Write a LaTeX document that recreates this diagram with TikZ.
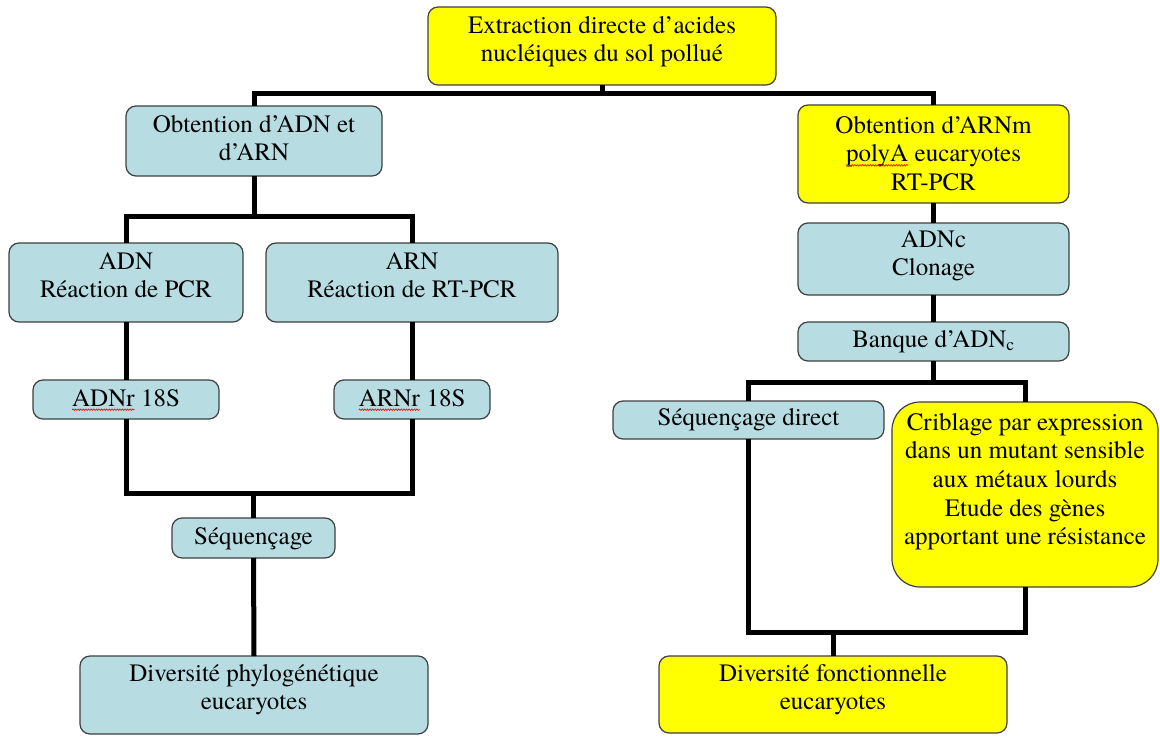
\documentclass[tikz,border=0pt]{standalone}
\usepackage{fontspec}
\setmainfont{texgyretermes-regular.otf}
\usetikzlibrary{decorations.pathmorphing}

\definecolor{boxblue}{HTML}{B7DDE3}
\definecolor{boxyellow}{HTML}{FFFF00}
\definecolor{boxline}{HTML}{404040}

% red wavy underline (spell-check style)
\newcommand\spell[1]{\tikz[baseline=(w.base)]{\node[inner sep=0,outer sep=0] (w) {#1};%
  \draw[red,line width=0.6pt,decorate,decoration={snake,amplitude=0.8pt,segment length=2.6pt}]
    ([yshift=-3.5pt]w.base west) -- ([yshift=-3.5pt]w.base east);}}
% strut fixing the height of a first line
\newcommand\fl{\rule{0pt}{18pt}}
% box from its corners: name, style, x1, y1, x2, y2
\newcommand\bx[6]{\node[#2, minimum width=#5-#3, minimum height=#6-#4] (#1) at ({(#3+#5)/2},{(#4+#6)/2}) {};}

\begin{document}
\begin{tikzpicture}[x=1pt,y=-1pt,
  box/.style={draw=boxline, line width=1.2pt, rounded corners=10pt, inner sep=0pt, outer sep=0pt},
  bluebox/.style={box, fill=boxblue},
  yellowbox/.style={box, fill=boxyellow},
  txt/.style={anchor=north, inner sep=0pt, align=center, font=\fontsize{25}{28.6}\selectfont},
  conn/.style={line width=5pt}]

\fill[white] (0,0) rectangle (1160,737);
\useasboundingbox (0,0) rectangle (1160,737);

% boxes
\bx{top}{yellowbox}{428}{7}{776}{85}
\bx{obt}{bluebox}{126}{106}{382}{176}
\bx{adn}{bluebox}{9}{243}{243}{322}
\bx{arn}{bluebox}{266}{243}{558}{322}
\bx{adnr}{bluebox}{33}{380}{219}{419}
\bx{arnr}{bluebox}{334}{380}{490}{419}
\bx{seq}{bluebox}{172}{518}{335}{558}
\bx{divp}{bluebox}{80}{656}{428}{734}
\bx{arnm}{yellowbox}{798}{105}{1069}{203}
\bx{adnc}{bluebox}{798}{223}{1069}{295}
\bx{banq}{bluebox}{798}{322}{1069}{361}
\bx{seqd}{bluebox}{613}{401}{884}{439}
\bx{crib}{yellowbox,rounded corners=28pt}{892}{402}{1158}{587}
\bx{divf}{yellowbox}{659}{656}{1007}{733}

% texts
\node[txt] (topT) at ([yshift=-8pt]top.north) {\fl Extraction directe d’acides\\nucléiques du sol pollué};
\node[txt] (obtT) at ([yshift=-8pt]obt.north) {\fl Obtention d’ADN et\\d’ARN};
\node[txt] (adnT) at ([yshift=-8pt]adn.north) {\fl ADN\\Réaction de PCR};
\node[txt] (arnT) at ([yshift=-8pt]arn.north) {\fl ARN\\Réaction de RT-PCR};
\node[txt] (adnrT) at ([yshift=-8pt]adnr.north) {\fl\spell{ADNr} 18S};
\node[txt] (arnrT) at ([yshift=-8pt]arnr.north) {\fl\spell{ARNr} 18S};
\node[txt] (seqT) at ([yshift=-8pt]seq.north) {\fl Séquençage};
\node[txt] (divpT) at ([yshift=-7pt]divp.north) {\fl Diversité phylogénétique\\eucaryotes};
\node[txt] (arnmT) at ([yshift=-10pt]arnm.north) {\fl Obtention d’ARNm\\\spell{polyA} eucaryotes\\RT-PCR};
\node[txt] (adncT) at ([yshift=-6pt]adnc.north) {\fl ADNc\\Clonage};
\node[txt] (banqT) at ([yshift=-7pt]banq.north) {\fl Banque d’ADN\textsubscript{c}};
\node[txt] (seqdT) at ([yshift=-6pt]seqd.north) {\fl Séquençage direct};
\node[txt] (cribT) at ([yshift=-10pt]crib.north) {\fl Criblage par expression\\dans un mutant sensible\\aux métaux lourds\\Etude des gènes\\apportant une résistance};
\node[txt] (divfT) at ([yshift=-7pt]divf.north) {\fl Diversité fonctionnelle\\eucaryotes};

% connectors
\path (top.south) ++(0,8) coordinate (b1);
\draw[conn] (top.south) -- (b1);
\draw[conn] (b1) -| (obt.north);
\draw[conn] (b1) -| (arnm.north);

\path (obt.south) ++(0,40) coordinate (b2);
\draw[conn] (obt.south) -- (b2);
\draw[conn] (adn.north) |- (b2) -| (arn.north);
\draw[conn] (adn.south) -- (adnr.north);
\draw[conn] (arn.south) -- (arnr.north);

\path (seq.north) ++(0,-25) coordinate (b3);
\draw[conn] (adnr.south) |- (b3) -| (arnr.south);
\draw[conn] (b3) -- (seq.north);
\draw[conn] (seq.south) -- (divp.north);

\draw[conn] (arnm.south) -- (adnc.north);
\draw[conn] (adnc.south) -- (banq.north);
\path (banq.south) ++(0,21) coordinate (b4);
\draw[conn] (banq.south) -- (b4);
\draw[conn] (seqd.north) |- (b4) -| (crib.north);

\path (divf.north) ++(0,-24) coordinate (b5);
\draw[conn] (seqd.south) |- (b5) -| (crib.south);
\draw[conn] (b5) -- (divf.north);
\end{tikzpicture}
\end{document}
